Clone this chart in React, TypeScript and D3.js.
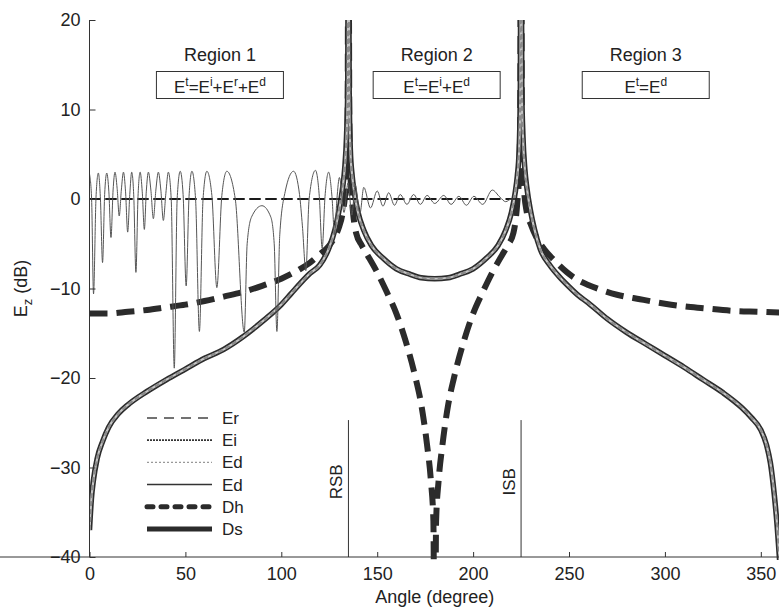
import React, { useEffect, useRef } from "react";
import * as d3 from "d3";

const width = 779,
  height = 614;

// Ds (slope diffraction, thick solid)
const dsAngle = [0, 1, 2, 4, 7, 10, 15, 20, 30, 40, 50, 60, 70, 80, 90, 100, 105, 110, 115, 120, 125, 128, 130, 132, 133, 134, 134.6, 135, 135.4, 136, 137, 138, 140, 143, 147, 153, 160, 167, 173, 180, 187, 193, 200, 207, 213, 217, 220, 222, 223, 224, 224.6, 225, 225.4, 226, 227, 228, 230, 232, 235, 240, 245, 250, 255, 260, 270, 280, 290, 300, 310, 320, 330, 340, 345, 350, 353, 355, 357, 358.5, 359.5, 360];
const dsValue = [-37, -33.5, -31.5, -29, -27, -25.5, -24, -23, -21.5, -20.2, -19, -17.8, -16.8, -15.4, -13.7, -11.8, -10.6, -9.4, -8.3, -7.4, -5.4, -3.4, -1.4, 1.3, 3.3, 7, 12, 40, 12, 5.5, 2.5, 0.8, -1.5, -3.5, -5.2, -6.6, -7.8, -8.4, -8.8, -8.9, -8.8, -8.4, -7.8, -6.6, -5.2, -3.5, -1.5, 0.8, 2.5, 5.5, 12, 40, 12, 7, 3.3, 1.3, -1.4, -3.4, -5.6, -7.4, -8.7, -9.8, -10.8, -11.6, -13.4, -14.9, -16.2, -17.5, -18.8, -20.2, -21.6, -23.3, -24.4, -25.8, -27.5, -29.5, -33, -36.5, -39.5, -41];

// Dh (hard diffraction, thick dashed)
const dhAngle = [0, 10, 20, 30, 40, 50, 60, 70, 80, 90, 100, 110, 115, 120, 125, 128, 130, 132, 133.5, 134.5, 135, 135.5, 136, 137, 139, 142, 145, 150, 155, 160, 165, 170, 173, 176, 178, 179.3, 180, 180.7, 182, 184, 187, 190, 195, 200, 205, 210, 215, 218, 221, 223, 224, 224.5, 225, 225.5, 226.5, 228, 230, 233, 237, 243, 249, 255, 260, 266, 275, 287, 300, 310, 320, 336, 350, 360];
const dhValue = [-12.8, -12.8, -12.6, -12.4, -12.1, -11.8, -11.4, -10.9, -10.4, -9.7, -8.9, -7.8, -7.1, -6.2, -5.2, -4.2, -3.2, -1.5, 1.2, 6, 40, 8, 3, -0.5, -3.8, -5.2, -6.3, -8.2, -10.4, -12.8, -16, -20, -23, -27.5, -31.5, -36, -60, -36, -31.5, -27.5, -23, -20, -16, -12.8, -10.4, -8.2, -6.3, -5.2, -3.8, -0.5, 3, 8, 40, 6, 1.2, -1.5, -2.8, -4.3, -5.6, -7, -8.2, -9.1, -9.6, -10.1, -10.7, -11.2, -11.7, -12, -12.2, -12.5, -12.6, -12.7];

// total field (thin solid)
const etAngle = [0, 1.1, 2.1, 3.4, 4.6, 5.7, 6.8, 7.9, 9, 10.1, 11.2, 12.3, 13.3, 14.4, 15.5, 16.6, 17.7, 18.8, 19.9, 21, 22, 23.1, 24.2, 25.3, 26.4, 27.5, 28.6, 29.6, 30.7, 32, 33.3, 34.6, 35.9, 37.2, 38.5, 39.8, 41.1, 42.6, 44.2, 45.7, 47.3, 48.8, 50.4, 51.9, 53.4, 55.3, 57.3, 59.2, 61.2, 63.8, 66.4, 69, 71.6, 76, 80.7, 82.2, 84.5, 89.9, 94.5, 96.3, 97.7, 99.2, 102, 106.4, 109.5, 111, 112.8, 114.5, 117.8, 119.8, 121.3, 122.8, 124.7, 126.4, 127.8, 129, 130.3, 132.7, 134.8, 136.8, 138.5, 141, 143, 146.5, 150, 153, 156, 159, 162, 165.5, 169, 172.5, 176, 180, 184.7, 188.5, 192.6, 196.5, 200.4, 205, 210, 214, 217, 220, 222];
const etValue = [2.8, 0, -10.6, 0.2, 2.9, 0, -7.1, 0.5, 2.9, 0.8, -4.3, 1, 3, 1.2, -1.9, 1, 3, 0.8, -3.7, 0.5, 3, 0.2, -8.2, 0.3, 3, 0.8, -3.4, 0.8, 3, 1, -2.2, 1, 3, 1, -2.4, 0.6, 3, 0, -18.9, 0, 3.1, 0.5, -9.7, 0.3, 3.1, 0, -14.8, 0, 3.1, 0.4, -9.9, 0.4, 3.1, 0, -14.9, -5, -2, -0.75, -2, -5, -14.8, -4, 0.8, 3.1, 0.5, -3, -8, 0, 3.2, 0.3, -5.5, 0.3, 3, 0.3, -4, 0, 2.4, -1.5, 1.8, -1.8, 1.6, -1.6, 1.3, -1, 0.9, -0.8, 0.7, -0.7, 0.5, -0.6, 0.5, -0.6, 0.4, -0.5, 0.4, -0.6, 0.3, -0.7, 0.3, -0.6, 1, 0.2, -0.3, 0, 0];

// incident and reflected fields (0 dB)
const eiAngle = [0, 225];
const eiValue = [0, 0];
const erAngle = [0, 135];
const erValue = [0, 0];

// shadow boundaries
const boundaryNames = ["RSB", "ISB"];
const boundaryAngle = [135, 225];

const xTicks = [0, 50, 100, 150, 200, 250, 300, 350];
const yTicks = [20, 10, 0, -10, -20, -30, -40];

const regionNames = ["Region 1", "Region 2", "Region 3"];
const regionFormulas = [
  [["E", "t"], ["=E", "i"], ["+E", "r"], ["+E", "d"]],
  [["E", "t"], ["=E", "i"], ["+E", "d"]],
  [["E", "t"], ["=E", "d"]],
];
const legendNames = ["Er", "Ei", "Ed", "Ed", "Dh", "Ds"];

const font = "'Liberation Sans', Arial, sans-serif";

function Chart() {
  const ref = useRef<SVGSVGElement>(null);

  useEffect(() => {
    const svg = d3.select(ref.current);
    svg.selectAll("*").remove();

    const x = d3.scaleLinear().domain([0, 360]).range([89.5, 780]);
    const y = d3.scaleLinear().domain([-40, 20]).range([557, 20]);

    svg.append("rect").attr("width", width).attr("height", height).attr("fill", "#fff");

    svg
      .append("clipPath")
      .attr("id", "plot-clip")
      .append("rect")
      .attr("x", x(0))
      .attr("y", y(20))
      .attr("width", x(360) - x(0))
      .attr("height", y(-40) - y(20) + 3);

    const line = (a: number[], v: number[], curve = d3.curveMonotoneX) =>
      d3
        .line<number>()
        .x(i => x(a[i]))
        .y(i => y(v[i]))
        .curve(curve)(d3.range(a.length));

    const plot = svg.append("g").attr("clip-path", "url(#plot-clip)");

    // Dh thick dashes
    plot
      .append("path")
      .attr("d", line(dhAngle, dhValue))
      .attr("fill", "none")
      .attr("stroke", "#2b2b2b")
      .attr("stroke-width", 6)
      .attr("stroke-dasharray", "18,9");

    // Ds with overlaid Ed (chain look)
    const dsPath = line(dsAngle, dsValue);
    plot.append("path").attr("d", dsPath).attr("fill", "none").attr("stroke", "#2d2d2d").attr("stroke-width", 5.5);
    plot.append("path").attr("d", dsPath).attr("fill", "none").attr("stroke", "#c4c4c4").attr("stroke-width", 2.2);
    plot
      .append("path")
      .attr("d", dsPath)
      .attr("fill", "none")
      .attr("stroke", "#8a8a8a")
      .attr("stroke-width", 2.2)
      .attr("stroke-dasharray", "5,3");

    // Ei / Er zero line
    plot
      .append("path")
      .attr("d", line(eiAngle, eiValue, d3.curveLinear))
      .attr("fill", "none")
      .attr("stroke", "#1a1a1a")
      .attr("stroke-width", 2.2)
      .attr("stroke-dasharray", "11,5");
    plot
      .append("path")
      .attr("d", line(erAngle, erValue, d3.curveLinear))
      .attr("fill", "none")
      .attr("stroke", "#1a1a1a")
      .attr("stroke-width", 2.2)
      .attr("stroke-dasharray", "11,5");

    // total field
    plot
      .append("path")
      .attr("d", line(etAngle, etValue))
      .attr("fill", "none")
      .attr("stroke", "#555")
      .attr("stroke-width", 1);

    // shadow boundaries
    boundaryAngle.forEach((a, i) => {
      svg
        .append("line")
        .attr("x1", x(a))
        .attr("x2", x(a))
        .attr("y1", y(-24.7))
        .attr("y2", y(-40))
        .attr("stroke", "#333")
        .attr("stroke-width", 1);
      svg
        .append("text")
        .attr("transform", `translate(${x(a) - 6},${y(-31.6)}) rotate(-90)`)
        .attr("text-anchor", "middle")
        .attr("font-family", font)
        .attr("font-size", 17)
        .attr("fill", "#222")
        .text(boundaryNames[i]);
    });

    // axes
    const xAxis = svg
      .append("g")
      .attr("transform", `translate(0,${y(-40)})`)
      .call(d3.axisBottom(x).tickValues(xTicks).tickSize(-5).tickSizeOuter(0).tickPadding(10).tickFormat(d3.format("d")));
    const yAxis = svg
      .append("g")
      .attr("transform", `translate(${x(0)},0)`)
      .call(d3.axisLeft(y).tickValues(yTicks).tickSize(-6).tickSizeOuter(0).tickPadding(9).tickFormat(d3.format("d")));
    [xAxis, yAxis].forEach(ax => {
      ax.selectAll("path,line").attr("stroke", "#333");
      ax.selectAll("text").attr("font-family", font).attr("font-size", 18).attr("fill", "#222");
    });
    yAxis.select(".domain").attr("d", `M0,${y(20)}V${y(-40)}`);
    xAxis.select(".domain").attr("d", `M0,0H${x(360)}`);

    svg
      .append("text")
      .attr("x", (x(0) + x(360)) / 2)
      .attr("y", 603)
      .attr("text-anchor", "middle")
      .attr("font-family", font)
      .attr("font-size", 18)
      .attr("fill", "#222")
      .text("Angle (degree)");

    const yl = svg
      .append("text")
      .attr("transform", `translate(27,${y(-10)}) rotate(-90)`)
      .attr("text-anchor", "middle")
      .attr("font-family", font)
      .attr("font-size", 18)
      .attr("fill", "#222");
    yl.append("tspan").text("E");
    yl.append("tspan").attr("dy", 5).attr("font-size", 13).text("z");
    yl.append("tspan").attr("dy", -5).text(" (dB)");

    // region labels and formula boxes
    const regionCenter = [68, 181, 290];
    regionNames.forEach((name, i) => {
      const cx = x(regionCenter[i]);
      svg
        .append("text")
        .attr("x", cx)
        .attr("y", 61)
        .attr("text-anchor", "middle")
        .attr("font-family", font)
        .attr("font-size", 18)
        .attr("fill", "#222")
        .text(name);
      svg
        .append("rect")
        .attr("x", cx - 63.5)
        .attr("y", 71.5)
        .attr("width", 127)
        .attr("height", 27)
        .attr("fill", "#fff")
        .attr("stroke", "#333")
        .attr("stroke-width", 1);
      const t = svg
        .append("text")
        .attr("x", cx)
        .attr("y", 93)
        .attr("text-anchor", "middle")
        .attr("font-family", font)
        .attr("font-size", 17)
        .attr("fill", "#222");
      regionFormulas[i].forEach(([b, s], k) => {
        t.append("tspan").attr("dy", k === 0 ? 0 : 7).text(b);
        t.append("tspan").attr("dy", -7).attr("font-size", 12).text(s);
      });
    });

    // legend
    const legendStyles = [
      { w: 1.3, c: "#444", dash: "10,7", cap: "butt" },
      { w: 1.8, c: "#333", dash: "2,1", cap: "butt" },
      { w: 1.2, c: "#999", dash: "2,2", cap: "butt" },
      { w: 1.5, c: "#333", dash: null, cap: "butt" },
      { w: 5, c: "#2b2b2b", dash: "6,8", cap: "round" },
      { w: 5, c: "#2b2b2b", dash: null, cap: "butt" },
    ];
    const legend = svg.append("g");
    legendNames.forEach((name, i) => {
      const ly = 418 + i * 22.2;
      const st = legendStyles[i];
      legend
        .append("line")
        .attr("x1", 147)
        .attr("x2", 212)
        .attr("y1", ly)
        .attr("y2", ly)
        .attr("stroke", st.c)
        .attr("stroke-width", st.w)
        .attr("stroke-linecap", st.cap)
        .attr("stroke-dasharray", st.dash);
      legend
        .append("text")
        .attr("x", 222)
        .attr("y", ly + 6)
        .attr("font-family", font)
        .attr("font-size", 17)
        .attr("fill", "#222")
        .text(name);
    });
  }, []);

  return <svg ref={ref} width={width} height={height} style={{ position: "absolute", left: 0, top: 0 }} />;
}

export default function App() {
  return <Chart />;
}
